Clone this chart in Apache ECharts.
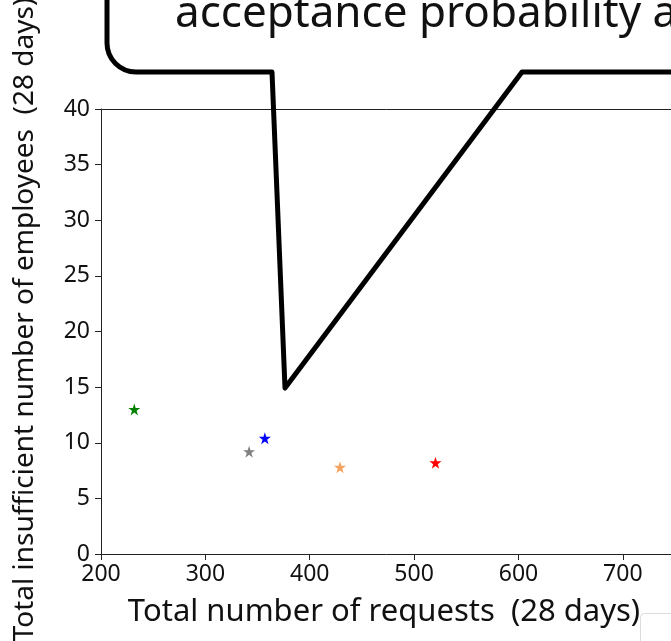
<!DOCTYPE html>
<html>
<head>
<meta charset="utf-8">
<script src="https://cdn.jsdelivr.net/npm/echarts@6/dist/echarts.min.js"></script>
<style>
html,body{margin:0;padding:0;background:#fff;}
#chart{width:671px;height:641px;}
</style>
</head>
<body>
<div id="chart"></div>
<script>
// Data
var requests = [231.9, 341.9, 357, 429, 520.5];
var insufficient = [13.0, 9.2, 10.4, 7.8, 8.2];
var pointColors = ['#008000', '#808080', '#0000ff', '#f4a460', '#ff0000'];
var xTicks = [200, 300, 400, 500, 600, 700];
var yTicks = [0, 5, 10, 15, 20, 25, 30, 35, 40];
var xTitle = 'Total number of requests  (28 days)';
var yTitle = 'Total insufficient number of employees  (28 days)';
var calloutText = 'acceptance probability a';

var FONT = '"Noto Sans", sans-serif';
var STAR = 'path://M50,0 L61.2,34.5 L97.6,34.5 L68.2,55.9 L79.4,90.5 L50,69.1 L20.6,90.5 L31.8,55.9 L2.4,34.5 L38.8,34.5 Z';

var data = requests.map(function (x, i) {
  return { value: [x, insufficient[i]], itemStyle: { color: pointColors[i], opacity: 1 } };
});

var bubbleStyle = { fill: null, stroke: '#000', lineWidth: 5, lineJoin: 'round' };

var chart = echarts.init(document.getElementById('chart'), null, { renderer: 'canvas' });
chart.setOption({
  animation: false,
  backgroundColor: '#ffffff',
  grid: { left: 101, top: 109, height: 445, width: 574, containLabel: false, outerBoundsMode: 'none' },
  xAxis: [{
    type: 'value', min: xTicks[0], max: 750, interval: 100,
    name: xTitle, nameLocation: 'middle', nameGap: 43,
    nameTextStyle: { fontFamily: FONT, fontSize: 31, color: '#111', padding: [0, 8, 0, 0] },
    axisLine: { show: true, lineStyle: { color: '#222', width: 1 } },
    axisTick: { show: true, inside: false, length: 6, lineStyle: { color: '#222' } },
    axisLabel: { fontFamily: FONT, fontSize: 23, color: '#111', margin: 9,
      formatter: function (v) { return xTicks.indexOf(v) >= 0 ? String(v) : ''; } },
    splitLine: { show: false }
  }, {
    type: 'value', position: 'top', min: xTicks[0], max: 750,
    axisLine: { show: true, onZero: false, lineStyle: { color: '#222', width: 1 } },
    axisTick: { show: false }, axisLabel: { show: false }, splitLine: { show: false }
  }],
  yAxis: {
    type: 'value', min: yTicks[0], max: yTicks[yTicks.length - 1], interval: 5,
    name: yTitle, nameLocation: 'middle', nameGap: 62, nameRotate: 90,
    nameTextStyle: { fontFamily: FONT, fontSize: 28, color: '#111', padding: [0, 0, 0, 24] },
    axisLine: { show: true, lineStyle: { color: '#222', width: 1 } },
    axisTick: { show: true, inside: false, length: 6, lineStyle: { color: '#222' } },
    axisLabel: { fontFamily: FONT, fontSize: 23, color: '#111', margin: 11 },
    splitLine: { show: false }
  },
  series: [{
    type: 'scatter',
    symbol: STAR,
    symbolSize: 12,
    data: data,
    z: 3
  }],
  graphic: [
    {
      type: 'polyline', z: 100,
      shape: { points: [[720, 72], [522, 72], [285, 388], [272, 72], [136, 72]] },
      style: bubbleStyle
    },
    {
      type: 'arc', z: 100,
      shape: { cx: 136, cy: 43, r: 29, startAngle: Math.PI / 2, endAngle: Math.PI, clockwise: true },
      style: bubbleStyle
    },
    {
      type: 'line', z: 100,
      shape: { x1: 107, y1: 43, x2: 107, y2: -30 },
      style: bubbleStyle
    },
    {
      type: 'text', z: 100, x: 175, y: -8,
      style: { text: calloutText, font: '44px "Noto Sans", sans-serif', fill: '#111' }
    },
    {
      type: 'rect', z: 100,
      shape: { x: 640.5, y: 613.5, width: 80, height: 60, r: 4 },
      style: { fill: '#fff', stroke: '#dcdcdc', lineWidth: 1 }
    }
  ]
});
</script>
</body>
</html>
